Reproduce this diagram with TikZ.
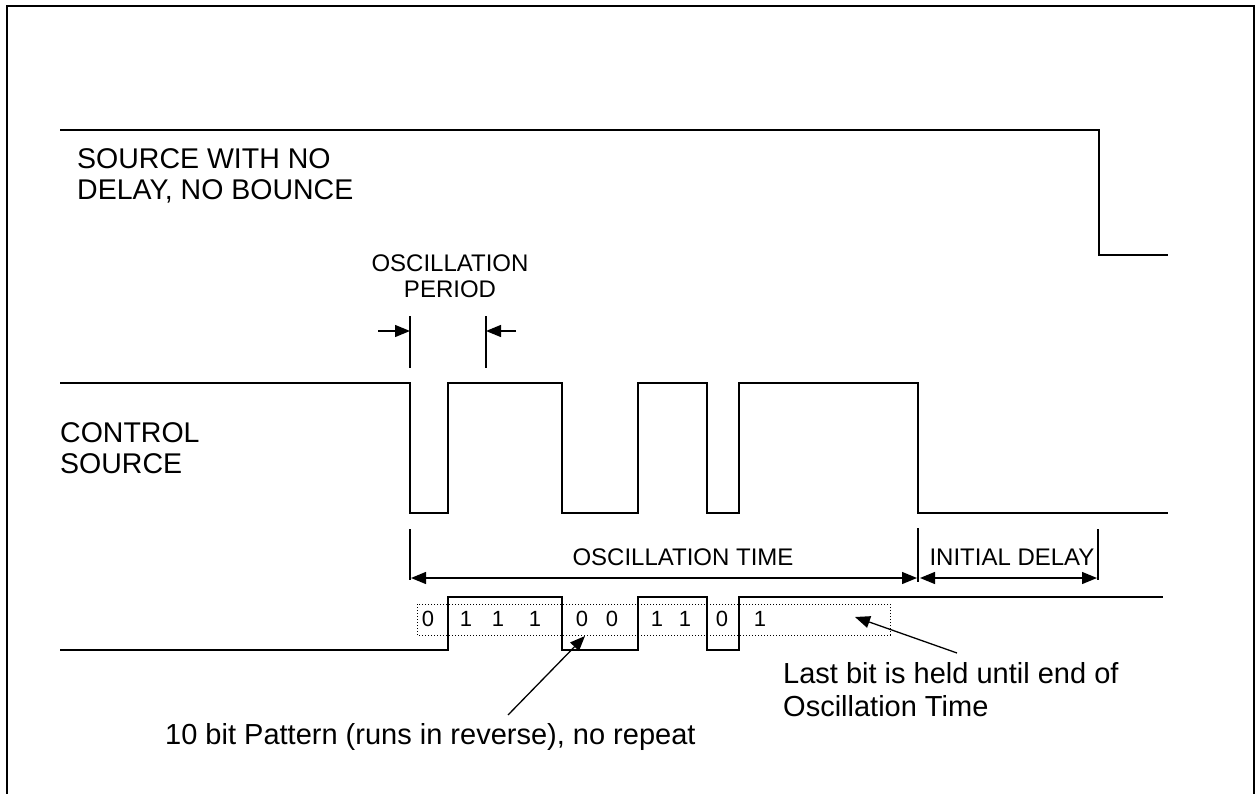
\documentclass[tikz,border=0pt]{standalone}
\usepackage{fontspec}
\setmainfont{Liberation Sans}
\usepackage{tikz}
\usetikzlibrary{arrows.meta,positioning}

\begin{document}
\begin{tikzpicture}
  [
  x=1pt,y=-1pt,
  wave/.style={line width=1.8pt,line join=miter},
  tick/.style={line width=1.3pt},
  dim/.style={line width=1.3pt,>={Triangle[length=15pt,width=12pt]}},
  big label/.style={inner sep=0pt,align=left,font=\fontsize{28.5}{31}\selectfont},
  mid label/.style={inner sep=0pt,align=center,font=\fontsize{24}{26}\selectfont},
  note/.style={inner sep=0pt,align=left,font=\fontsize{29}{33}\selectfont},
  bit/.style={inner sep=0pt,font=\fontsize{22}{24}\selectfont},
  pattern box/.style={dotted,line width=1pt}
  ]
  \useasboundingbox (0,0) rectangle (1255,794);
  \draw[line width=2pt] (7,800) -- (7,6) -- (1254,6) -- (1254,800);

  % waveforms
  \draw[wave] (60,130) -- (1099,130) -- (1099,255) -- (1168,255);
  \draw[wave] (60,383) -- (410,383) -- (410,513) -- (448,513) -- (448,383)
    -- (562,383) -- (562,513) -- (638,513) -- (638,383) -- (707,383)
    -- (707,513) -- (739,513) -- (739,383) -- (918,383) -- (918,513) -- (1168,513);
  \draw[wave] (60,650) -- (448,650) -- (448,597) -- (562,597) -- (562,650)
    -- (638,650) -- (638,597) -- (707,597) -- (707,650) -- (739,650)
    -- (739,597) -- (1163,597);

  % labels
  \node[big label,anchor=north west] (source label) at (77,148) {SOURCE WITH NO\\DELAY, NO BOUNCE};
  \node[big label,anchor=north west] (control label) at (60,422) {CONTROL\\SOURCE};
  \node[mid label,anchor=north] (period label) at (450,255) {OSCILLATION\\PERIOD};

  % oscillation period
  \draw[tick] (410,316) -- (410,368);
  \draw[tick] (486,316) -- (486,368);
  \coordinate (period left) at (410,331);
  \coordinate (period right) at (486,331);
  \draw[dim,->] (378,331) -- (period left);
  \draw[dim,->] (516,331) -- (period right);

  % oscillation time and initial delay
  \draw[tick] (410,529) -- (410,580);
  \draw[tick] (918,528) -- (918,582);
  \draw[tick] (1098,529) -- (1098,580);
  \coordinate (time start) at (411,578);
  \coordinate (time end) at (917,578);
  \coordinate (delay start) at (920,578);
  \coordinate (delay end) at (1097,578);
  \draw[dim,<->] (time start) -- (time end);
  \draw[dim,<->] (delay start) -- (delay end);
  \node[mid label,anchor=north] (time label) at (683,549) {OSCILLATION TIME};
  \node[mid label,anchor=north] (delay label) at (1012,549) {INITIAL DELAY};

  % bit pattern
  \draw[pattern box] (417,604) rectangle (890,635);
  \foreach \x/\b in {428/0,466/1,498/1,535/1,582/0,612/0,657/1,685/1,722/0,760/1}
    \node[bit] (bit \x) at (\x,619) {\b};

  % notes
  \node[note,anchor=north west] (pattern label) at (165,723)
    {10 bit Pattern (runs in reverse), no repeat};
  \node[note,anchor=north west] (held label) at (783,662)
    {Last bit is held until end of\\Oscillation Time};
  \coordinate (pattern tail) at (508,715);
  \coordinate (pattern tip) at (585,636);
  \coordinate (held tail) at (957,653);
  \coordinate (held tip) at (855,617);
  \draw[dim,->] (pattern tail) -- (pattern tip);
  \draw[dim,->] (held tail) -- (held tip);
\end{tikzpicture}
\end{document}
